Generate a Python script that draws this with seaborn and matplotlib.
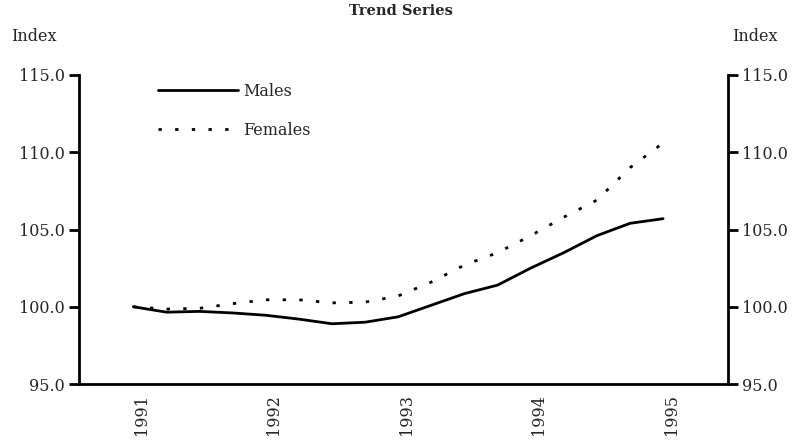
import numpy as np
import pandas as pd
import matplotlib
matplotlib.use("Agg")
import matplotlib.pyplot as plt
import seaborn as sns
from matplotlib.lines import Line2D

# quarterly trend index, March 1991 = 100
quarters = [1991 + i / 4 for i in range(17)]
males = [100.0, 99.65, 99.7, 99.6, 99.45, 99.2, 98.9, 99.0, 99.35,
         100.1, 100.85, 101.4, 102.5, 103.5, 104.6, 105.4, 105.7]
females = [100.0, 99.85, 99.9, 100.2, 100.45, 100.45, 100.25, 100.3, 100.7,
           101.6, 102.7, 103.5, 104.6, 105.8, 106.9, 109.0, 110.6]
year_labels = ["1991", "1992", "1993", "1994", "1995"]
y_ticks = [95.0, 100.0, 105.0, 110.0, 115.0]

df = pd.DataFrame({
    "quarter": quarters * 2,
    "index": males + females,
    "series": ["Males"] * len(males) + ["Females"] * len(females),
})

sns.set_style("white")
plt.rcParams["font.family"] = ["DejaVu Serif"]

FS = 11.5
DOTS = (1.2, 4.8)

fig = plt.figure(figsize=(8.03, 4.44), dpi=100)
ax = fig.add_axes([0.0984, 0.1351, 0.9066 - 0.0984, 0.8311 - 0.1351])

sns.lineplot(data=df, x="quarter", y="index", style="series",
             dashes={"Males": "", "Females": DOTS},
             color="black", linewidth=2.0, legend=False, ax=ax)

ax.set_xlim(1990.59, 1995.49)
ax.set_ylim(95, 115)
ax.set_xlabel("")
ax.set_ylabel("")

# year labels sit just right of the March quarter, tick marks between
ax.set_xticks([int(y) + 0.06 for y in year_labels])
ax.set_xticklabels(year_labels, rotation=90, fontsize=FS)
ax.tick_params(axis="x", which="major", length=0, pad=7)
ax.set_xticks([1990.59, 1991.585, 1992.58, 1993.585, 1994.585], minor=True)
ax.tick_params(axis="x", which="minor", length=7, width=2, direction="out", color="black")

ax.set_yticks(y_ticks)
ax.set_yticklabels(["%.1f" % v for v in y_ticks], fontsize=FS)
ax.tick_params(axis="y", length=7, width=2, direction="out", color="black", pad=3)

for side in ["left", "bottom"]:
    ax.spines[side].set_linewidth(2)
    ax.spines[side].set_color("black")
ax.spines["top"].set_visible(False)
ax.spines["right"].set_visible(False)

ax2 = ax.twinx()
ax2.set_ylim(95, 115)
ax2.set_yticks(y_ticks)
ax2.set_yticklabels(["%.1f" % v for v in y_ticks], fontsize=FS)
ax2.tick_params(axis="y", length=7, width=2, direction="out", color="black", pad=3)
for side in ["left", "top", "bottom"]:
    ax2.spines[side].set_visible(False)
ax2.spines["right"].set_linewidth(2)
ax2.spines["right"].set_color("black")

handles = [Line2D([], [], color="black", linewidth=2.0),
           Line2D([], [], color="black", linewidth=2.0, linestyle=(0, DOTS))]
ax.legend(handles, ["Males", "Females"], loc="upper left", bbox_to_anchor=(0.1, 1.022),
          frameon=False, fontsize=FS, handlelength=5.0, handletextpad=0.3,
          labelspacing=1.4)

fig.text(0.4994, 0.975, "Trend Series", ha="center", va="center",
         fontsize=10.5, fontweight="bold")
fig.text(0.014, 0.918, "Index", ha="left", va="center", fontsize=FS)
fig.text(0.912, 0.918, "Index", ha="left", va="center", fontsize=FS)

fig.savefig("out.png", dpi=100)
